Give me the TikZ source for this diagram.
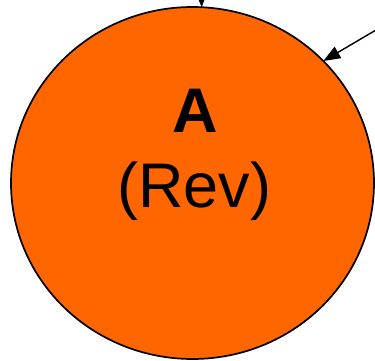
\documentclass[tikz,border=0pt]{standalone}
\usepackage{fontspec}
\setmainfont{Liberation Sans}
\usepackage{tikz}
\usetikzlibrary{arrows.meta,shapes.geometric}
\definecolor{revorange}{RGB}{255,102,0}

\begin{document}
\begin{tikzpicture}[x=1pt, y=1pt,
  blob/.style={ellipse, draw=black, fill=revorange, line width=1.7pt,
               inner sep=0pt, outer sep=0pt,
               minimum width=363pt, minimum height=352pt},
  lbl/.style={anchor=base, inner sep=0pt, font=\fontsize{63}{74}\selectfont},
  fl/.style={-{Triangle[length=17pt, width=13pt]}, line width=1.4pt}]
\useasboundingbox (0,0) rectangle (375,360);

% the revision node
\node[blob] (rev) at (192.5,177) {};
\node[lbl, font=\fontsize{63}{74}\selectfont\bfseries] (revname) at (195,228) {A};
\node[lbl] (revtag) at (194.5,153) {(Rev)};

% incoming edges, their tails leave the picture
\coordinate (intop) at (201,385);
\coordinate (inright) at (393,340);
\draw[fl] (intop) -- (rev.87);
\draw[fl] (inright) -- (rev.43);
\end{tikzpicture}
\end{document}
